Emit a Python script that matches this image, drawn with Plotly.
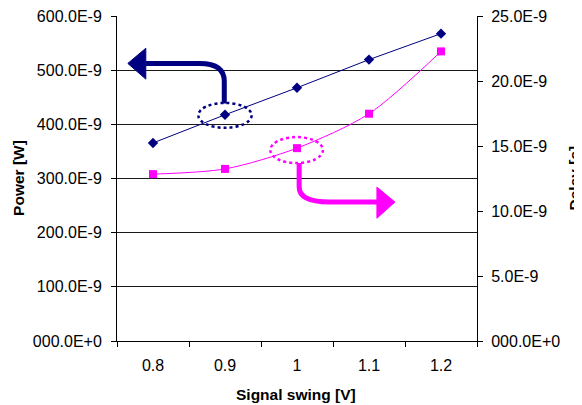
import plotly.graph_objects as go

# ---- data ----
swing = [0.8, 0.9, 1.0, 1.1, 1.2]
swing_labels = ["0.8", "0.9", "1", "1.1", "1.2"]
power_nW = [366, 418, 468, 520, 568]          # Power in 1E-9 W
delay_ns = [12.85, 13.25, 14.85, 17.5, 22.3]  # Delay in 1E-9 s

power_ticks = [0, 100, 200, 300, 400, 500, 600]
power_ticktext = ["000.0E+0", "100.0E-9", "200.0E-9", "300.0E-9",
                  "400.0E-9", "500.0E-9", "600.0E-9"]
delay_ticks = [0, 5, 10, 15, 20, 25]
delay_ticktext = ["000.0E+0", "5.0E-9", "10.0E-9", "15.0E-9", "20.0E-9", "25.0E-9"]
x_boundaries = [0.75, 0.85, 0.95, 1.05, 1.15, 1.25]

NAVY = "#000080"
MAGENTA = "#FF00FF"
FONT = "Liberation Sans, Arial, sans-serif"
TICK_SIZE = 16
TITLE_SIZE = 15.5

fig = go.Figure()
fig.add_trace(go.Scatter(
    x=swing, y=power_nW, mode="lines+markers", name="Power",
    line=dict(color=NAVY, width=1),
    marker=dict(symbol="diamond", size=8, color=NAVY),
    yaxis="y"))
fig.add_trace(go.Scatter(
    x=swing, y=delay_ns, mode="lines+markers", name="Delay",
    line=dict(color=MAGENTA, width=1, shape="spline", smoothing=0.8),
    marker=dict(symbol="square", size=8, color=MAGENTA),
    yaxis="y2"))

# ---- decorative callouts (ellipses + arrows) anchored on data points ----
px0, py0 = swing[1], power_nW[1]
dx0, dy0 = swing[2], delay_ns[2]
shapes = [
    dict(type="circle", xref="x", yref="y",
         x0=px0 - 0.037, x1=px0 + 0.037, y0=py0 - 24, y1=py0 + 22,
         line=dict(color=NAVY, width=2.5, dash="dot")),
    dict(type="path", xref="x", yref="y",
         path=f"M {px0-0.001},{py0+21} L {px0-0.001},{py0+62} "
              f"Q {px0-0.001},{py0+95} {px0-0.035},{py0+95} L {px0-0.11},{py0+95}",
         line=dict(color=NAVY, width=5)),
    dict(type="path", xref="x", yref="y",
         path=f"M {px0-0.135},{py0+95} L {px0-0.11},{py0+123} L {px0-0.11},{py0+66} Z",
         fillcolor=NAVY, line=dict(color=NAVY, width=1)),
    dict(type="circle", xref="x", yref="y2",
         x0=dx0 - 0.037, x1=dx0 + 0.036, y0=dy0 - 1.15, y1=dy0 + 0.85,
         line=dict(color=MAGENTA, width=2.5, dash="dot")),
    dict(type="path", xref="x", yref="y2",
         path=f"M {dx0+0.003},{dy0-1.15} L {dx0+0.003},{dy0-3.0} "
              f"Q {dx0+0.003},{dy0-4.15} {dx0+0.045},{dy0-4.15} L {dx0+0.112},{dy0-4.15}",
         line=dict(color=MAGENTA, width=5)),
    dict(type="path", xref="x", yref="y2",
         path=f"M {dx0+0.136},{dy0-4.15} L {dx0+0.111},{dy0-3.0} L {dx0+0.111},{dy0-5.4} Z",
         fillcolor=MAGENTA, line=dict(color=MAGENTA, width=1)),
]

# The page has an 8px body margin, so the figure is laid out shifted by 8px.
fig.update_layout(
    width=582, height=405,
    margin=dict(l=109, r=113, t=8, b=72, autoexpand=False),
    paper_bgcolor="white", plot_bgcolor="white",
    showlegend=False,
    font=dict(family=FONT, size=TICK_SIZE, color="black"),
    xaxis=dict(
        range=[0.75, 1.25], tickmode="array", tickvals=swing, ticktext=swing_labels,
        ticks="", showgrid=False, zeroline=False, automargin=False,
        showline=True, linecolor="black", linewidth=1,
        minor=dict(tickmode="array", tickvals=x_boundaries, ticks="outside",
                   ticklen=5, tickcolor="black", tickwidth=1, showgrid=False),
        ticklabelstandoff=10,
        tickfont=dict(size=TICK_SIZE)),
    yaxis=dict(
        range=[0, 600.6], tickmode="array", tickvals=power_ticks, ticktext=power_ticktext,
        ticks="outside", ticklen=5, tickcolor="black", automargin=False,
        showgrid=True, gridcolor="#1a1a1a", gridwidth=1, zeroline=False,
        showline=True, linecolor="black", linewidth=1,
        ticklabelstandoff=6, ticklabeloverflow="allow",
        tickfont=dict(size=TICK_SIZE)),
    yaxis2=dict(
        range=[0, 25.025], overlaying="y", side="right", automargin=False,
        tickmode="array", tickvals=delay_ticks, ticktext=delay_ticktext,
        ticks="outside", ticklen=5, tickcolor="black",
        showgrid=False, zeroline=False,
        showline=True, linecolor="black", linewidth=1,
        ticklabelstandoff=5, ticklabeloverflow="allow",
        tickfont=dict(size=TICK_SIZE)),
    yaxis3=dict(
        range=[0, 25.025], overlaying="y", side="right", anchor="x", automargin=False,
        tickmode="array", tickvals=delay_ticks,
        ticks="inside", ticklen=5, tickcolor="black",
        showticklabels=False, showgrid=False, zeroline=False, showline=False),
    shapes=shapes,
    annotations=[
        dict(text="<b>Power [W]</b>", xref="paper", yref="paper",
             x=-0.274, y=0.503, textangle=-90, showarrow=False,
             xanchor="center", yanchor="middle",
             font=dict(size=TITLE_SIZE)),
        dict(text="<b>Delay [s]</b>", xref="paper", yref="paper",
             x=1.272, y=0.503, textangle=-90, showarrow=False,
             xanchor="center", yanchor="middle",
             font=dict(size=TITLE_SIZE)),
        dict(text="<b>Signal swing [V]</b>", xref="paper", yref="paper",
             x=0.497, y=-0.166, showarrow=False,
             xanchor="center", yanchor="middle",
             font=dict(size=TITLE_SIZE)),
    ],
)

fig.write_html("out.html")
